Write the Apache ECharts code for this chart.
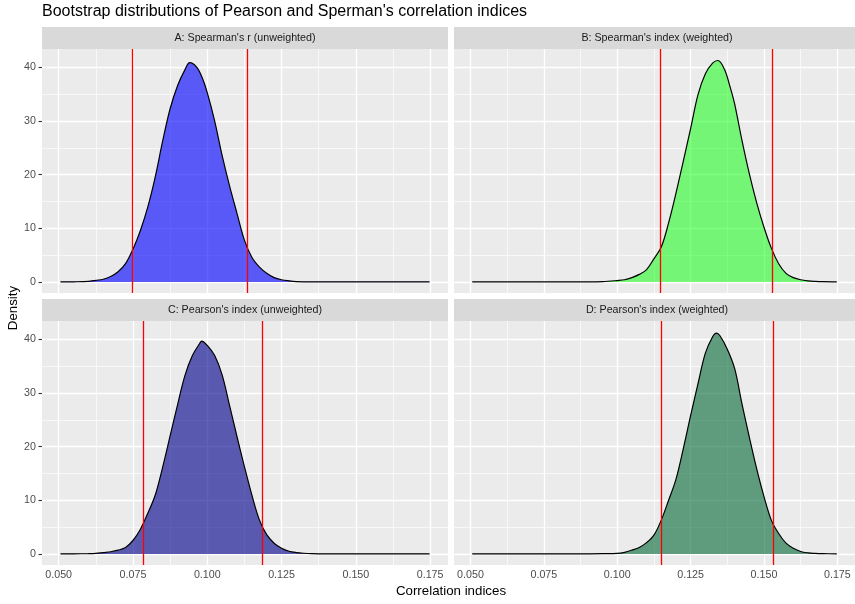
<!DOCTYPE html>
<html>
<head>
<meta charset="utf-8">
<title>Bootstrap distributions</title>
<script src="https://cdn.jsdelivr.net/npm/echarts@6/dist/echarts.min.js"></script>
<style>
  html, body { margin: 0; padding: 0; background: #fff; }
  #chart { width: 855px; height: 604px; }
</style>
</head>
<body>
<div id="chart"></div>
<script>
// texts
var chartTitle = "Bootstrap distributions of Pearson and Sperman's correlation indices";
var panelTitles = ["A: Spearman's r (unweighted)", "B: Spearman's index (weighted)",
                   "C: Pearson's index (unweighted)", "D: Pearson's index (weighted)"];
var xTitle = 'Correlation indices';
var yTitle = 'Density';

// density curves
var xA = [0.0506, 0.055, 0.06, 0.0625, 0.065, 0.0675, 0.07, 0.0725, 0.075, 0.0775, 0.08, 0.0825, 0.085, 0.0875,
          0.09, 0.0925, 0.0941, 0.0965, 0.0985, 0.1, 0.1025, 0.105, 0.1075, 0.11, 0.1125, 0.115, 0.1175, 0.12,
          0.1225, 0.125, 0.1275, 0.13, 0.135, 0.1748];
var yA = [0, 0.02, 0.1, 0.3, 0.5, 1.0, 1.9, 3.4, 6.1, 9.6, 14.0, 19.6, 26.3, 32.3,
          36.6, 39.6, 40.9, 40.0, 37.8, 35.3, 30.0, 23.6, 17.9, 12.8, 7.8, 4.6, 2.8, 1.6,
          0.8, 0.4, 0.2, 0.07, 0.01, 0];

var xB = [0.0506, 0.09, 0.095, 0.1, 0.1025, 0.105, 0.1075, 0.11, 0.1125, 0.115, 0.1175, 0.12, 0.1225, 0.125,
          0.1275, 0.13, 0.1325, 0.1343, 0.1365, 0.1385, 0.14, 0.1425, 0.145, 0.1475, 0.15, 0.1525, 0.155,
          0.1575, 0.16, 0.1625, 0.165, 0.1675, 0.17, 0.1748];
var yB = [0, 0.01, 0.05, 0.25, 0.4, 0.8, 1.4, 2.3, 4.3, 6.5, 11.0, 16.5, 22.5, 28.6,
          34.9, 38.8, 40.8, 41.3, 39.7, 36.3, 33.2, 26.4, 20.2, 14.8, 10.2, 6.3, 3.4,
          1.6, 0.8, 0.4, 0.2, 0.1, 0.04, 0];

var xC = [0.0506, 0.055, 0.06, 0.0625, 0.065, 0.0675, 0.07, 0.0725, 0.075, 0.0775, 0.08, 0.0825, 0.085, 0.0875,
          0.09, 0.0925, 0.095, 0.0975, 0.0981, 0.1, 0.1025, 0.105, 0.1075, 0.11, 0.1125, 0.115, 0.1175, 0.12,
          0.1225, 0.125, 0.1275, 0.13, 0.1325, 0.135, 0.14, 0.1748];
var yC = [0, 0.02, 0.05, 0.1, 0.25, 0.4, 0.7, 1.2, 2.5, 4.6, 7.6, 11.0, 16.2, 22.0,
          27.8, 33.3, 37.0, 39.3, 39.7, 38.9, 37.0, 33.4, 27.7, 21.9, 16.3, 11.0, 6.4, 3.6,
          2.0, 1.05, 0.5, 0.25, 0.12, 0.05, 0.01, 0];

var xD = [0.0506, 0.09, 0.095, 0.1, 0.1025, 0.105, 0.1075, 0.11, 0.1125, 0.115, 0.1175, 0.12, 0.1225, 0.125,
          0.1275, 0.13, 0.1325, 0.1338, 0.135, 0.1375, 0.14, 0.1425, 0.145, 0.1475, 0.15, 0.1525, 0.155,
          0.1575, 0.16, 0.1625, 0.165, 0.1675, 0.17, 0.1748];
var yD = [0, 0.01, 0.04, 0.1, 0.3, 0.7, 1.2, 2.1, 3.5, 6.3, 10.0, 13.9, 19.6, 25.8,
          31.7, 37.4, 40.5, 41.2, 40.7, 38.2, 34.6, 28.0, 21.8, 15.9, 10.7, 6.3, 3.8,
          2.0, 1.05, 0.45, 0.2, 0.1, 0.05, 0];

// interval bounds (red lines)
var ciA = [0.0749, 0.1134];
var ciB = [0.1146, 0.1527];
var ciC = [0.0786, 0.1184];
var ciD = [0.1150, 0.1530];

// axes
var xMajor = [0.05, 0.075, 0.1, 0.125, 0.15, 0.175];
var xMinor = [0.0625, 0.0875, 0.1125, 0.1375, 0.1625];
var yMajor = [0, 10, 20, 30, 40];
var yMinor = [5, 15, 25, 35];
var xLimits = [0.04439, 0.18101];
var yLimits = [-2.07, 43.45];

var fills = ['rgba(0,0,255,0.62)', 'rgba(0,255,0,0.5)', 'rgba(0,0,139,0.62)', 'rgba(0,104,52,0.6)'];

var panelX = [xA, xB, xC, xD];
var panelY = [yA, yB, yC, yD];
var panelCI = [ciA, ciB, ciC, ciD];

// layout
var FONT = "'Liberation Sans', Arial, Helvetica, sans-serif";
var boxes = [{left: 42, top: 49}, {left: 454, top: 49}, {left: 42, top: 321}, {left: 454, top: 321}];
var boxW = 406, boxH = 244, stripH = 22;

function zip(xs, ys) {
  var out = [];
  for (var i = 0; i < xs.length; i++) out.push([xs[i], ys[i]]);
  return out;
}

function gridLines() {
  var list = [];
  xMinor.forEach(function(v) { list.push({xAxis: v, lineStyle: {color: '#fff', width: 0.65, type: 'solid'}}); });
  yMinor.forEach(function(v) { list.push({yAxis: v, lineStyle: {color: '#fff', width: 0.65, type: 'solid'}}); });
  xMajor.forEach(function(v) { list.push({xAxis: v, lineStyle: {color: '#fff', width: 1.3, type: 'solid'}}); });
  yMajor.forEach(function(v) { list.push({yAxis: v, lineStyle: {color: '#fff', width: 1.3, type: 'solid'}}); });
  return list;
}

var grids = [], xAxes = [], yAxes = [], series = [], graphics = [];

boxes.forEach(function(b, i) {
  var bottom = i >= 2, left = (i % 2) === 0;
  grids.push({left: b.left, top: b.top, width: boxW, height: boxH, show: true,
              backgroundColor: '#EBEBEB', borderWidth: 0, containLabel: false});
  xAxes.push({
    gridIndex: i, type: 'value', min: xLimits[0], max: xLimits[1],
    axisLine: {show: false}, splitLine: {show: false},
    axisTick: {show: bottom, length: 3.5, customValues: xMajor, lineStyle: {color: '#333333', width: 1.1}},
    axisLabel: {show: bottom, customValues: xMajor, margin: 5, color: '#4D4D4D', fontSize: 10.7, fontFamily: FONT,
                formatter: function(v) { return v.toFixed(3); }}
  });
  yAxes.push({
    gridIndex: i, type: 'value', min: yLimits[0], max: yLimits[1],
    axisLine: {show: false}, splitLine: {show: false},
    axisTick: {show: left, length: 3.5, customValues: yMajor, lineStyle: {color: '#333333', width: 1.1}},
    axisLabel: {show: left, customValues: yMajor, margin: 6, color: '#4D4D4D', fontSize: 10.7, fontFamily: FONT}
  });
  // background grid lines
  series.push({
    type: 'line', xAxisIndex: i, yAxisIndex: i, data: [], silent: true, z: 1,
    markLine: {z: 1, precision: 6, silent: true, animation: false, symbol: ['none', 'none'], label: {show: false},
               emphasis: {disabled: true}, data: gridLines()}
  });
  // density
  series.push({
    type: 'line', name: panelTitles[i], xAxisIndex: i, yAxisIndex: i, z: 2,
    data: zip(panelX[i], panelY[i]), smooth: 0.35, symbol: 'none', showSymbol: false,
    lineStyle: {color: '#000', width: 1.2}, areaStyle: {color: fills[i], opacity: 1},
    emphasis: {disabled: true},
    markLine: {z: 5, precision: 6, silent: true, animation: false, symbol: ['none', 'none'], label: {show: false},
               emphasis: {disabled: true}, lineStyle: {color: '#FF0000', width: 1.3, type: 'solid'},
               data: panelCI[i].map(function(v) { return {xAxis: v}; })}
  });
  // facet strip
  graphics.push({type: 'rect', silent: true, shape: {x: b.left, y: b.top - stripH, width: boxW, height: stripH},
                 style: {fill: '#D9D9D9'}});
  graphics.push({type: 'text', silent: true, x: b.left + boxW / 2, y: b.top - stripH / 2,
                 style: {text: panelTitles[i], fill: '#1A1A1A', fontSize: 10.7, fontFamily: FONT,
                         align: 'center', verticalAlign: 'middle', textAlign: 'center', textVerticalAlign: 'middle'}});
});

graphics.push({type: 'text', silent: true, x: 451, y: 591,
               style: {text: xTitle, fill: '#000', fontSize: 13.3, fontFamily: FONT,
                       align: 'center', verticalAlign: 'middle', textAlign: 'center', textVerticalAlign: 'middle'}});
graphics.push({type: 'text', silent: true, x: 13, y: 308, rotation: Math.PI / 2,
               style: {text: yTitle, fill: '#000', fontSize: 13.3, fontFamily: FONT,
                       align: 'center', verticalAlign: 'middle', textAlign: 'center', textVerticalAlign: 'middle'}});

var chart = echarts.init(document.getElementById('chart'), null, {renderer: 'canvas'});
chart.setOption({
  animation: false,
  backgroundColor: '#fff',
  title: {text: chartTitle, left: 42, top: 4, padding: 0,
          textStyle: {fontSize: 16, fontWeight: 'normal', color: '#000', fontFamily: FONT}},
  grid: grids,
  xAxis: xAxes,
  yAxis: yAxes,
  series: series,
  graphic: {elements: graphics}
});
</script>
</body>
</html>
